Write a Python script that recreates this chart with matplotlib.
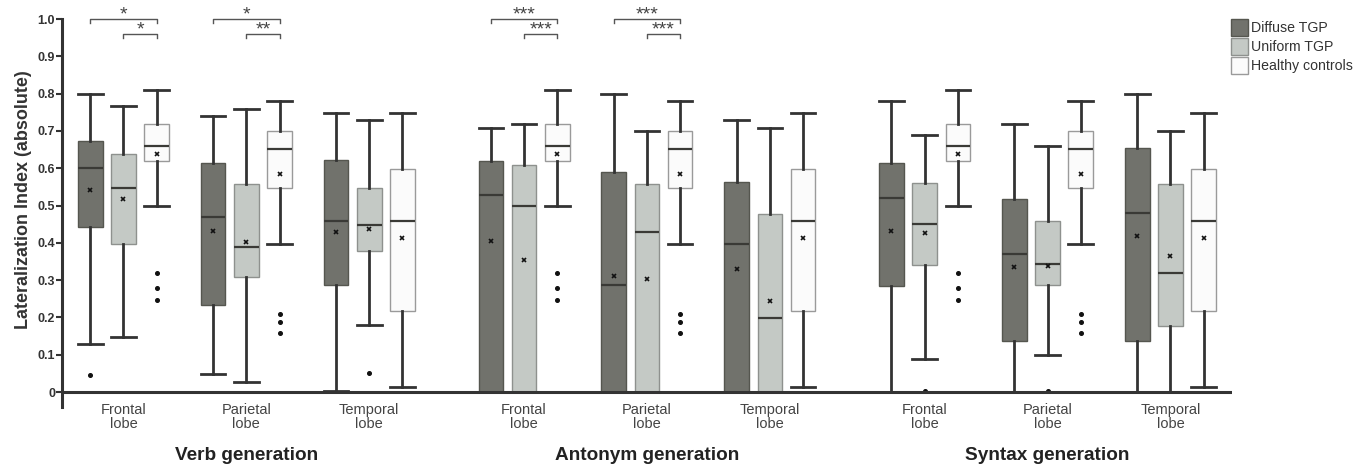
"""
Boxplots of absolute lateralization index per lobe and task,
for the two TGP patient groups and healthy controls.
"""

import matplotlib.pyplot as plt
from matplotlib.patches import Patch

plt.rcParams["font.family"] = ["Liberation Sans", "DejaVu Sans"]

# ---------------------------------------------------------------------------
# Data (order: Verb F/P/T, Antonym F/P/T, Syntax F/P/T)
# ---------------------------------------------------------------------------
tasks = ["Verb generation", "Antonym generation", "Syntax generation"]
lobes = ["Frontal\nlobe", "Parietal\nlobe", "Temporal\nlobe"]
groups = ["Diffuse TGP", "Uniform TGP", "Healthy controls"]

diffuse_whislo = [0.128, 0.049, 0.003, 0.0, 0.0, 0.0, 0.0, 0.0, 0.0]
diffuse_q1     = [0.443, 0.233, 0.288, 0.0, 0.0, 0.0, 0.284, 0.138, 0.138]
diffuse_med    = [0.600, 0.469, 0.459, 0.529, 0.288, 0.398, 0.519, 0.369, 0.480]
diffuse_q3     = [0.674, 0.614, 0.623, 0.619, 0.589, 0.564, 0.614, 0.518, 0.655]
diffuse_whishi = [0.800, 0.739, 0.749, 0.708, 0.800, 0.729, 0.779, 0.719, 0.800]
diffuse_mean   = [0.541, 0.432, 0.428, 0.404, 0.311, 0.331, 0.433, 0.336, 0.419]
diffuse_fliers = [[0.045], [], [], [], [], [], [], [], []]

uniform_whislo = [0.148, 0.026, 0.179, 0.0, 0.0, 0.0, 0.089, 0.099, 0.0]
uniform_q1     = [0.398, 0.309, 0.378, 0.0, 0.0, 0.0, 0.340, 0.288, 0.178]
uniform_med    = [0.548, 0.388, 0.448, 0.498, 0.428, 0.198, 0.451, 0.343, 0.318]
uniform_q3     = [0.639, 0.559, 0.548, 0.609, 0.559, 0.478, 0.560, 0.459, 0.559]
uniform_whishi = [0.768, 0.760, 0.729, 0.719, 0.699, 0.708, 0.690, 0.659, 0.699]
uniform_mean   = [0.517, 0.403, 0.437, 0.354, 0.302, 0.243, 0.427, 0.338, 0.366]
uniform_fliers = [[], [], [0.051], [], [], [], [0.004], [0.004], []]

healthy_whislo = [0.499, 0.398, 0.013] * 3
healthy_q1     = [0.619, 0.548, 0.218] * 3
healthy_med    = [0.659, 0.651, 0.459] * 3
healthy_q3     = [0.719, 0.699, 0.598] * 3
healthy_whishi = [0.810, 0.780, 0.749] * 3
healthy_mean   = [0.638, 0.584, 0.412] * 3
healthy_fliers = [[0.318, 0.278, 0.248], [0.208, 0.188, 0.158], []] * 3

# significance brackets: (box index, group from, group to, level, label)
sig_brackets = [
    (0, 0, 2, 0, "*"), (0, 1, 2, 1, "*"),
    (1, 0, 2, 0, "*"), (1, 1, 2, 1, "**"),
    (3, 0, 2, 0, "***"), (3, 1, 2, 1, "***"),
    (4, 0, 2, 0, "***"), (4, 1, 2, 1, "***"),
]

colors = ["#71726c", "#c4c9c5", "#fbfbfb"]
edges = ["#55564f", "#8e918e", "#9a9a9a"]
offsets = [-0.27, 0.0, 0.27]
TASK_STEP = 3.26


def lobe_center(i):
    return (i // 3) * TASK_STEP + (i % 3)


fig = plt.figure(figsize=(13.54, 4.66), dpi=100)
ax = fig.add_axes([0.0458, (466 - 407) / 466, 0.864, (407 - 19) / 466])

all_groups = [
    (diffuse_whislo, diffuse_q1, diffuse_med, diffuse_q3, diffuse_whishi, diffuse_mean, diffuse_fliers),
    (uniform_whislo, uniform_q1, uniform_med, uniform_q3, uniform_whishi, uniform_mean, uniform_fliers),
    (healthy_whislo, healthy_q1, healthy_med, healthy_q3, healthy_whishi, healthy_mean, healthy_fliers),
]

for g, (wlo, q1, med, q3, whi, mean, fl) in enumerate(all_groups):
    stats = []
    for i in range(9):
        stats.append(dict(whislo=wlo[i], q1=q1[i], med=med[i], q3=q3[i],
                          whishi=whi[i], mean=mean[i], fliers=fl[i]))
    pos = [lobe_center(i) + offsets[g] for i in range(9)]
    ax.bxp(stats, positions=pos, widths=0.2, patch_artist=True, showmeans=True,
           boxprops=dict(facecolor=colors[g], edgecolor=edges[g], linewidth=1.0),
           medianprops=dict(color="#3a3a36", linewidth=1.6),
           whiskerprops=dict(color="#333333", linewidth=2.0),
           capprops=dict(color="#333333", linewidth=2.0),
           capwidths=0.2,
           meanprops=dict(marker="x", markersize=3.2, markeredgecolor="#111111",
                          markeredgewidth=1.2),
           flierprops=dict(marker="o", markersize=2.6, markerfacecolor="#111111",
                           markeredgecolor="#111111"),
           zorder=3)

# significance brackets
for i, g0, g1, lvl, label in sig_brackets:
    x0 = lobe_center(i) + offsets[g0]
    x1 = lobe_center(i) + offsets[g1]
    y = 1.0 - 0.04 * lvl
    ax.plot([x0, x0, x1, x1], [y - 0.01, y, y, y - 0.01], color="#555555",
            lw=1.0, clip_on=False)
    ax.text((x0 + x1) / 2, y - 0.013, label, ha="center", va="bottom",
            fontsize=14, color="#444444", clip_on=False)

ax.set_xlim(-0.5, 9.02)
ax.set_ylim(-0.04, 1.0)
ax.axhline(0, color="#333333", lw=2.2, zorder=4)

for s in ["top", "right", "bottom"]:
    ax.spines[s].set_visible(False)
ax.spines["left"].set_linewidth(2.2)
ax.spines["left"].set_color("#333333")

yt = [0, 0.1, 0.2, 0.3, 0.4, 0.5, 0.6, 0.7, 0.8, 0.9, 1.0]
ax.set_yticks(yt)
ax.set_yticklabels(["0"] + [f"{v:.1f}" for v in yt[1:]], fontsize=9,
                   fontweight="bold", color="#333333")
ax.tick_params(axis="y", length=4, width=1.5, color="#333333", pad=1)
ax.set_ylabel("Lateralization Index (absolute)", fontsize=13,
              fontweight="bold", color="#333333")
ax.yaxis.set_label_coords(-0.026, 0.535)

ax.set_xticks([lobe_center(i) for i in range(9)])
ax.set_xticklabels(lobes * 3, fontsize=10.5, color="#444444", linespacing=1.05)
ax.tick_params(axis="x", length=0, pad=-3)

for t, name in enumerate(tasks):
    ax.text(t * TASK_STEP + 1, -0.17, name, ha="center", va="center",
            fontsize=13.7, fontweight="bold", color="#222222", clip_on=False)

handles = [Patch(facecolor=colors[k], edgecolor=edges[k], linewidth=1.0)
           for k in range(3)]
fig.legend(handles, groups, loc="upper left", bbox_to_anchor=(0.909, 0.96),
           frameon=False, fontsize=10.2, handlelength=1.25, handleheight=1.5,
           handletextpad=0.15, labelspacing=0.12, borderpad=0.0,
           borderaxespad=0.0, labelcolor="#333333")

plt.savefig("out.png", dpi=100)
